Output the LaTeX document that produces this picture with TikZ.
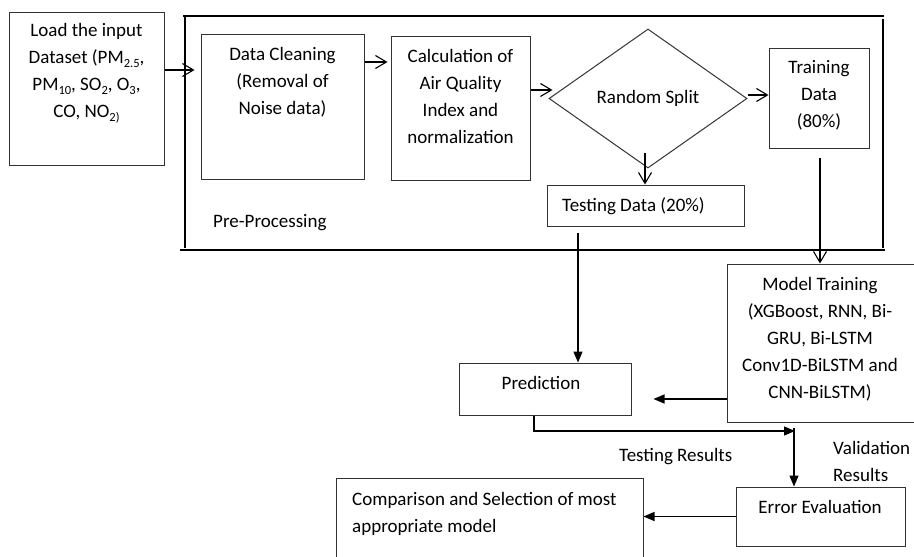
\documentclass[tikz,border=0pt]{standalone}
\usepackage{fontspec}
\setmainfont{Carlito}
\usetikzlibrary{arrows.meta,shapes.geometric}
\newcommand\sub[1]{\raisebox{-0.22em}{\fontsize{12.5}{12}\selectfont #1}}

\begin{document}
\begin{tikzpicture}[x=1pt, y=-1pt,
    font=\fontsize{19}{27}\selectfont,
    box/.style={draw=black!80, line width=1pt, inner sep=0pt},
    txt/.style={inner sep=0pt, align=center},
    frame/.style={line width=1.6pt},
    openarr/.style={line width=1.1pt, -{Straight Barb[length=11pt,width=13pt,line width=1.1pt]}},
    fillarr/.style={line width=1.3pt, -{Triangle[length=11pt,width=9pt]}}]
  	\clip (0,0) rectangle (914,557);

  	% pre-processing frame
  	\draw[frame] (183,16) -- (884,16) (185,17) -- (185,248)
  	  (883,19) -- (883,248) (180,250) -- (885,250);
  	\node[txt, anchor=west] (pre) at (213,223) {Pre-Processing};

  	% boxes
  	\node[box, minimum width=155, minimum height=153] (load) at (86.5,88.5) {};
  	\node[box, minimum width=163, minimum height=145] (clean) at (282.5,106.5) {};
  	\node[box, minimum width=139, minimum height=144] (calc) at (460.5,108) {};
  	\node[box, diamond, minimum width=198, minimum height=139] (split) at (648,98.5) {};
  	\node[box, minimum width=100, minimum height=100] (train) at (819,98) {};
  	\node[box, minimum width=197, minimum height=41] (test) at (645.5,205.5) {};
  	\node[box, minimum width=203, minimum height=158] (model) at (828.5,343) {};
  	\node[box, minimum width=172, minimum height=52] (pred) at (545,389) {};
  	\node[box, minimum width=169, minimum height=59] (err) at (820.5,516.5) {};
  	\node[box, minimum width=307, minimum height=102] (comp) at (489.5,529) {};

  	% texts
  	\node[txt] (loadtxt) at (86.5,73.5) {Load the input\\Dataset (PM\sub{2.5},\\
  	  PM\sub{10}, SO\sub{2}, O\sub{3},\\CO, NO\sub{2)}};
  	\node[txt] (cleantxt) at (282.5,82) {Data Cleaning\\(Removal of\\Noise data)};
  	\node[txt] (calctxt) at (460.5,96) {Calculation of\\Air Quality\\Index and\\normalization};
  	\node[txt] (splittxt) at (648,98.5) {Random Split};
  	\node[txt] (traintxt) at (819,95.5) {Training\\Data\\(80\%)};
  	\node[txt, anchor=west] (testtxt) at (562,206) {Testing Data (20\%)};
  	\node[txt] (modeltxt) at (820,339) {Model Training\\(XGBoost, RNN, Bi-\\GRU, Bi-LSTM\\
  	  Conv1D-BiLSTM and\\CNN-BiLSTM)};
  	\node[txt] (predtxt) at (541,383) {Prediction};
  	\node[txt] (errtxt) at (820,507) {Error Evaluation};
  	\node[txt, anchor=west, align=left] (comptxt) at (352,513.5)
  	  {Comparison and Selection of most\\appropriate model};
  	\node[txt, anchor=west] (testres) at (619,457) {Testing Results};
  	\node[txt, anchor=west, align=left] (valres) at (833,461) {Validation\\Results};

  	% connectors
  	\coordinate (s1) at (645,153);
  	\coordinate (t1) at (578,233);
  	\coordinate (t2) at (820,158);
  	\coordinate (j1) at (534,431);
  	\coordinate (j2) at (795,431);
  	\coordinate (v1) at (794,428);

  	\draw[openarr, shorten >=6pt] (load.east |- 0,70) -- (clean.west |- 0,70);
  	\draw[openarr, shorten >=3pt] (clean.east |- 0,62) -- (calc.west |- 0,62);
  	\draw[openarr, shorten >=-4pt] (calc.east |- 0,90) -- (split.west |- 0,90);
  	\draw[openarr] (split.east |- 0,95) -- (train.west |- 0,95);
  	\draw[openarr] (s1) -- (s1 |- test.north);
  	\draw[openarr] (t2) -- (t2 |- model.north);

  	\draw[fillarr] (t1) -- (t1 |- pred.north);
  	\draw[fillarr, shorten >=22pt] (model.west |- 0,399) -- (pred.east |- 0,399);
  	\draw[fillarr] (pred.south -| j1) -- (j1) -- (j2);
  	\draw[fillarr] (v1) -- (v1 |- err.north);
  	\draw[fillarr] (err.west) -- (comp.east |- err.west);
\end{tikzpicture}
\end{document}
